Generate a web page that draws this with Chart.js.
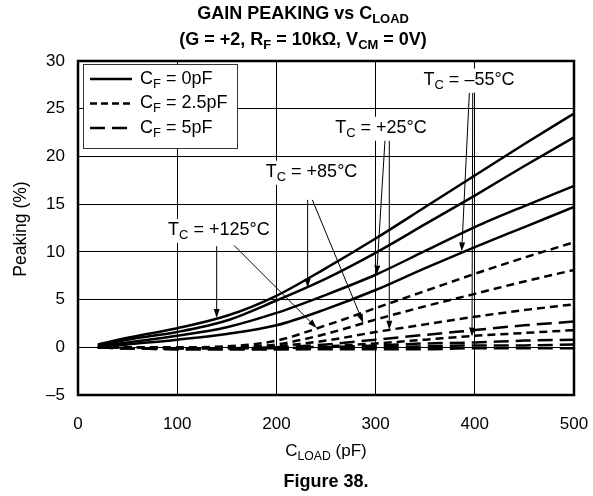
<!DOCTYPE html>
<html><head><meta charset="utf-8">
<script src="https://cdn.jsdelivr.net/npm/chart.js@4"></script>
<style>
html,body{margin:0;padding:0;background:#fff;}
#wrap{position:relative;width:593px;height:496px;font-family:"Liberation Sans",Arial,Helvetica,sans-serif;color:#000;overflow:hidden;}
canvas{position:absolute;left:0;top:0;}
.t{position:absolute;white-space:nowrap;text-align:center;}
sub{font-size:72%;vertical-align:baseline;position:relative;top:0.32em;}
</style></head>
<body><div id="wrap">
<canvas id="c" width="593" height="496"></canvas>
<div class="t" style="left:10px;width:586px;top:1px;font-weight:bold;font-size:18px;line-height:24px;">GAIN PEAKING vs C<sub>LOAD</sub><br>(G = +2, R<sub>F</sub> = 10kΩ, V<sub>CM</sub> = 0V)</div>
<div class="t" style="left:78px;width:496px;top:440px;font-size:17px;line-height:22px;">C<sub>LOAD</sub> (pF)</div>
<div class="t" style="left:78px;width:496px;top:470px;font-size:18px;font-weight:bold;line-height:22px;">Figure 38.</div>
<div class="t" style="left:-40px;top:218px;width:120px;font-size:17.5px;line-height:22px;transform:rotate(-90deg);">Peaking (%)</div>
</div>
<script>
// ---- data ----
const cload = [20, 50, 100, 150, 200, 250, 300, 350, 400, 450, 500];
// C_F = 0pF (solid)
const cf0_125 = [0.3, 1.0, 2.0, 3.3, 5.4, 8.3, 11.4, 14.7, 18.0, 21.3, 24.5];
const cf0_85  = [0.2, 0.8, 1.6, 2.8, 4.9, 7.2, 9.9, 12.9, 15.9, 19.0, 22.0];
const cf0_25  = [0.1, 0.5, 1.2, 2.1, 3.6, 5.5, 7.6, 10.1, 12.6, 14.8, 16.9];
const cf0_m55 = [0.0, 0.3, 0.8, 1.4, 2.3, 4.0, 6.0, 8.3, 10.5, 12.6, 14.7];
// C_F = 2.5pF (short dash)
const cf25_125 = [0.0, 0.0, 0.0, 0.1, 0.7, 2.3, 4.1, 5.9, 7.7, 9.4, 11.0];
const cf25_85  = [0.0, 0.0, -0.1, 0.0, 0.3, 1.4, 2.9, 4.3, 5.6, 6.9, 8.1];
const cf25_25  = [0.0, 0.0, -0.1, -0.1, 0.1, 0.7, 1.6, 2.4, 3.2, 3.9, 4.5];
const cf25_m55 = [0.0, 0.0, -0.1, -0.1, -0.1, 0.1, 0.4, 0.8, 1.2, 1.5, 1.8];
// C_F = 5pF (long dash)
const cf5_125 = [0.0, -0.1, -0.1, -0.1, 0.0, 0.3, 0.8, 1.3, 1.8, 2.3, 2.7];
const cf5_85  = [0.0, -0.1, -0.1, -0.1, -0.1, 0.0, 0.2, 0.4, 0.5, 0.7, 0.8];
const cf5_25  = [0.0, -0.1, -0.2, -0.2, -0.2, -0.1, 0.0, 0.1, 0.2, 0.2, 0.3];
const cf5_m55 = [0.0, -0.1, -0.2, -0.2, -0.2, -0.2, -0.2, -0.2, -0.1, -0.1, -0.1];

const xTicks = [0, 100, 200, 300, 400, 500];
const yTicks = [-5, 0, 5, 10, 15, 20, 25, 30];
const yTickLabels = ['–5', '0', '5', '10', '15', '20', '25', '30'];

const legendItems = [
  {name: 'F', value: ' = 0pF', dash: []},
  {name: 'F', value: ' = 2.5pF', dash: [7, 4]},
  {name: 'F', value: ' = 5pF', dash: [15, 7]}
];
// annotation labels: text, label anchor (pF, %), arrows [from pF,% -> to pF,%]
const notes = [
  {text: ' = +125°C', at: [142, 12.3], arrows: [[[139.8, 10.6], [139.8, 3.07]], [[157.3, 10.68], [240.6, 2.02]]]},
  {text: ' = +85°C', at: [235.4, 18.4], arrows: [[[231.5, 15.45], [231.5, 6.25]], [[236.2, 15.45], [287.6, 2.55]]]},
  {text: ' = +25°C', at: [305.4, 23.0], arrows: [[[309.5, 21.74], [301.1, 7.63]], [[313.8, 21.74], [313.8, 1.84]]]},
  {text: ' = –55°C', at: [394.2, 28.05], arrows: [[[394.5, 26.68], [386.8, 10.05]], [[397.9, 26.68], [397.2, 1.14]]]}
];

const FONT = '"Liberation Sans", Arial, Helvetica, sans-serif';
const pts = arr => arr.map((v, i) => ({x: cload[i], y: v}));
function ds(arr, dash) {
  return {data: pts(arr), borderColor: '#000', borderWidth: 2.5, borderDash: dash,
    pointRadius: 0, cubicInterpolationMode: 'monotone', fill: false, borderCapStyle: 'butt'};
}
const datasets = [
  ds(cf5_125, [15, 7]), ds(cf5_85, [15, 7]), ds(cf5_25, [15, 7]), ds(cf5_m55, [15, 7]),
  ds(cf25_125, [8, 5]), ds(cf25_85, [8, 5]), ds(cf25_25, [8, 5]), ds(cf25_m55, [8, 5]),
  ds(cf0_125, []), ds(cf0_85, []), ds(cf0_25, []), ds(cf0_m55, [])
];

function richWidth(ctx, base, sub, rest, size) {
  ctx.font = size + 'px ' + FONT; let w = ctx.measureText(base).width + ctx.measureText(rest).width;
  ctx.font = Math.round(size * 0.72) + 'px ' + FONT; w += ctx.measureText(sub).width; return w;
}
function drawRich(ctx, base, sub, rest, x, y, size) {
  ctx.textBaseline = 'middle'; ctx.textAlign = 'left'; ctx.fillStyle = '#000';
  ctx.font = size + 'px ' + FONT; ctx.fillText(base, x, y); x += ctx.measureText(base).width;
  ctx.font = Math.round(size * 0.72) + 'px ' + FONT; ctx.fillText(sub, x, y + size * 0.3); x += ctx.measureText(sub).width;
  ctx.font = size + 'px ' + FONT; ctx.fillText(rest, x, y);
}
function arrow(ctx, x1, y1, x2, y2) {
  ctx.strokeStyle = '#000'; ctx.lineWidth = 1; ctx.setLineDash([]);
  const a = Math.atan2(y2 - y1, x2 - x1), L = 9, H = 3;
  ctx.beginPath(); ctx.moveTo(x1, y1); ctx.lineTo(x2 - L * Math.cos(a), y2 - L * Math.sin(a)); ctx.stroke();
  ctx.fillStyle = '#000'; ctx.beginPath(); ctx.moveTo(x2, y2);
  ctx.lineTo(x2 - L * Math.cos(a) + H * Math.sin(a), y2 - L * Math.sin(a) - H * Math.cos(a));
  ctx.lineTo(x2 - L * Math.cos(a) - H * Math.sin(a), y2 - L * Math.sin(a) + H * Math.cos(a));
  ctx.closePath(); ctx.fill();
}

const overlay = {
  id: 'overlay',
  afterDatasetsDraw(chart) {
    const ctx = chart.ctx, xs = chart.scales.x, ys = chart.scales.y, ca = chart.chartArea;
    ctx.save();
    // frame
    ctx.strokeStyle = '#000'; ctx.lineWidth = 2.5; ctx.setLineDash([]);
    ctx.strokeRect(ca.left, ca.top, ca.right - ca.left, ca.bottom - ca.top);
    // annotations
    const size = 18;
    notes.forEach(n => {
      n.arrows.forEach(a => arrow(ctx, xs.getPixelForValue(a[0][0]), ys.getPixelForValue(a[0][1]),
        xs.getPixelForValue(a[1][0]), ys.getPixelForValue(a[1][1])));
      const w = richWidth(ctx, 'T', 'C', n.text, size);
      const cx = xs.getPixelForValue(n.at[0]), cy = ys.getPixelForValue(n.at[1]);
      ctx.fillStyle = '#fff'; ctx.fillRect(cx - w / 2 - 3, cy - 11, w + 6, 24);
      drawRich(ctx, 'T', 'C', n.text, cx - w / 2, cy, size);
    });
    // legend
    const lx = ca.left + 5, ly = ca.top + 3, lw = 154, lh = 84;
    ctx.fillStyle = '#fff'; ctx.fillRect(lx, ly, lw, lh);
    ctx.strokeStyle = '#333'; ctx.lineWidth = 1; ctx.strokeRect(lx + 0.5, ly + 0.5, lw, lh);
    legendItems.forEach((it, i) => {
      const y = ly + 15 + i * 24.5;
      ctx.strokeStyle = '#000'; ctx.lineWidth = 2.5; ctx.setLineDash(it.dash);
      ctx.beginPath(); ctx.moveTo(lx + 7, y); ctx.lineTo(lx + 49, y); ctx.stroke();
      ctx.setLineDash([]);
      drawRich(ctx, 'C', it.name, it.value, lx + 57, y, 18);
    });
    ctx.restore();
  }
};

new Chart(document.getElementById('c'), {
  type: 'line',
  data: {datasets},
  options: {
    responsive: false, animation: false, devicePixelRatio: 1,
    layout: {padding: {top: 61, right: 19, left: 0, bottom: 0}},
    plugins: {legend: {display: false}, tooltip: {enabled: false}},
    scales: {
      x: {type: 'linear', min: 0, max: 500,
        afterBuildTicks: s => { s.ticks = xTicks.map(v => ({value: v})); },
        afterFit: s => { s.height = 101; s.paddingRight = 0; },
        grid: {color: '#000', lineWidth: 1, drawTicks: true, tickLength: 16, tickColor: 'rgba(0,0,0,0)'},
        border: {display: false},
        ticks: {color: '#000', padding: 3, maxRotation: 0, font: {family: FONT, size: 17}}},
      y: {type: 'linear', min: -5, max: 30,
        afterBuildTicks: s => { s.ticks = yTicks.map(v => ({value: v})); },
        afterFit: s => { s.width = 78; },
        grid: {color: '#000', lineWidth: 1, drawTicks: false},
        border: {display: false},
        ticks: {color: '#000', padding: 13, font: {family: FONT, size: 17},
          callback: v => yTickLabels[yTicks.indexOf(v)]}}
    }
  },
  plugins: [overlay]
});
</script>
</body></html>
